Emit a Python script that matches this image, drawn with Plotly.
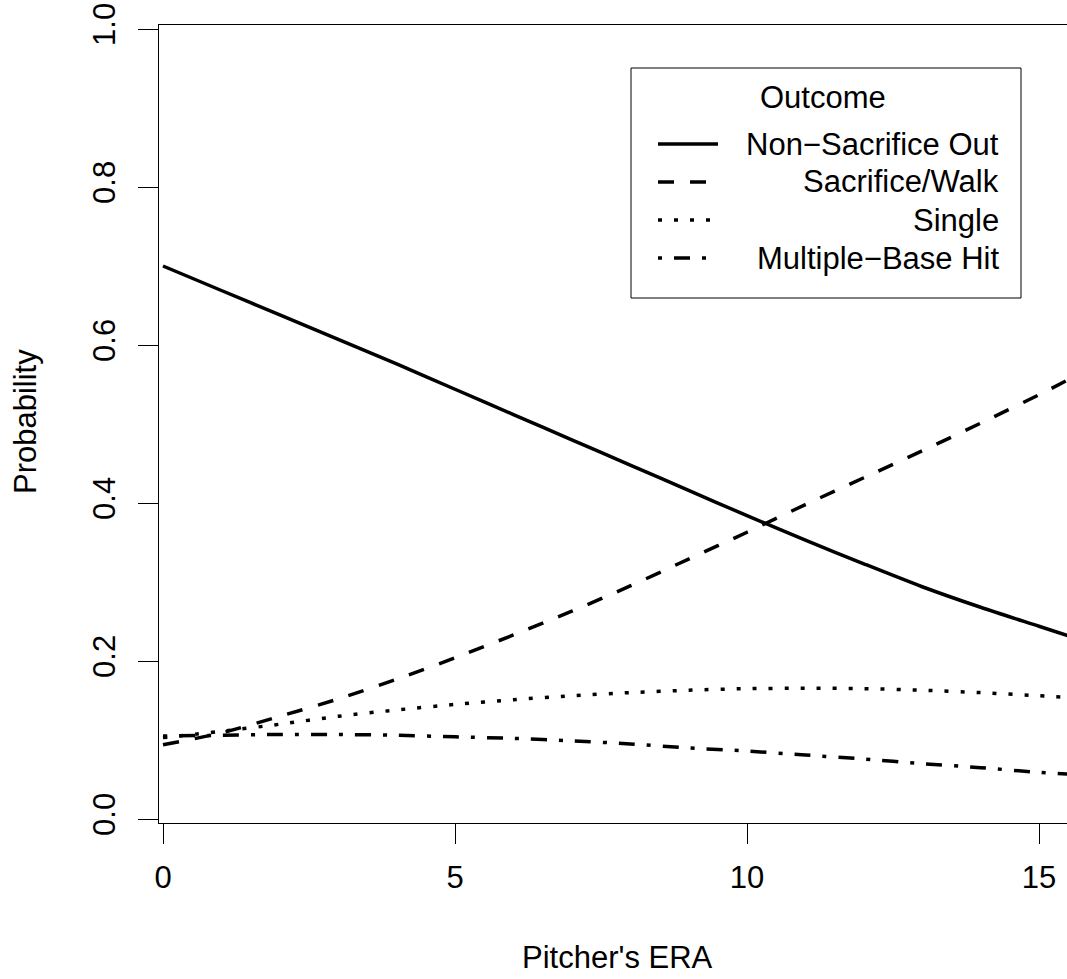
import plotly.graph_objects as go

era = [0, 1, 2, 3, 4, 5, 6, 7, 8, 9, 10, 11, 12, 13, 14, 15, 15.5]
non_sac_out = [0.700, 0.669, 0.638, 0.607, 0.576, 0.544, 0.512, 0.480, 0.448, 0.416,
               0.384, 0.353, 0.323, 0.294, 0.268, 0.244, 0.232]
sac_walk = [0.094, 0.109, 0.130, 0.152, 0.177, 0.204, 0.233, 0.263, 0.295, 0.329,
            0.363, 0.398, 0.432, 0.466, 0.501, 0.537, 0.556]
single = [0.103, 0.111, 0.120, 0.130, 0.138, 0.145, 0.151, 0.156, 0.160, 0.163,
          0.165, 0.1655, 0.165, 0.163, 0.160, 0.156, 0.154]
multi_hit = [0.105, 0.106, 0.107, 0.107, 0.106, 0.104, 0.102, 0.099, 0.095, 0.090,
             0.086, 0.081, 0.076, 0.070, 0.065, 0.059, 0.057]

series_names = ["Non\u2212Sacrifice Out", "Sacrifice/Walk", "Single", "Multiple\u2212Base Hit"]
series_vals = [non_sac_out, sac_walk, single, multi_hit]
dashes = ["solid", "16px,16px", "4px,12px", "4px,12px,16px,12px"]

x_ticks = [0, 5, 10, 15]
y_ticks = [0.0, 0.2, 0.4, 0.6, 0.8, 1.0]
y_ticklabels = ["0.0", "0.2", "0.4", "0.6", "0.8", "1.0"]

FONT = "Liberation Sans, Arial, Helvetica, sans-serif"
FS = 31
LW = 3.5

fig = go.Figure()
for name, vals, d in zip(series_names, series_vals, dashes):
    fig.add_trace(go.Scatter(x=era, y=vals, mode="lines", name=name,
                             line=dict(color="black", width=LW, dash=d,
                                       shape="spline", smoothing=0.8),
                             showlegend=False, hoverinfo="skip"))

# plot area pixel geometry
L, R, T, B = 159, 1067, 25, 823
W, H = R - L, B - T
def px(x):
    return (x - L) / W
def py(y):
    return (B - y) / H

shapes = []
annotations = []
# legend box
shapes.append(dict(type="rect", xref="paper", yref="paper",
                   x0=px(631), x1=px(1021), y0=py(298), y1=py(68),
                   line=dict(color="black", width=1), fillcolor="white", layer="above"))
annotations.append(dict(text="Outcome", xref="paper", yref="paper", x=px(823), y=py(97),
                        xanchor="center", yanchor="middle", showarrow=False,
                        font=dict(family=FONT, size=FS, color="black")))
rows = [144, 182, 220, 258]
for name, d, ry in zip(series_names, dashes, rows):
    shapes.append(dict(type="line", xref="paper", yref="paper",
                       x0=px(658), x1=px(718), y0=py(ry), y1=py(ry),
                       line=dict(color="black", width=LW, dash=d), layer="above"))
    annotations.append(dict(text=name, xref="paper", yref="paper", x=px(1001), y=py(ry),
                            xanchor="right", yanchor="middle", showarrow=False,
                            font=dict(family=FONT, size=FS, color="black")))

# axis titles
annotations.append(dict(text="Pitcher's ERA", xref="paper", yref="paper",
                        x=px(617.5), y=py(957), xanchor="center", yanchor="middle",
                        showarrow=False, font=dict(family=FONT, size=FS, color="black")))
annotations.append(dict(text="Probability", xref="paper", yref="paper",
                        x=px(26), y=py(422), xanchor="center", yanchor="middle",
                        textangle=-90, showarrow=False,
                        font=dict(family=FONT, size=FS, color="black")))

fig.update_layout(
    width=1067, height=979,
    margin=dict(l=L, r=1067 - R, t=T, b=979 - B, pad=0),
    paper_bgcolor="white", plot_bgcolor="white",
    font=dict(family=FONT, size=FS, color="black"),
    shapes=shapes, annotations=annotations,
    xaxis=dict(range=[(L - 163) / 58.4, (R - 163) / 58.4], tickvals=x_ticks,
               ticktext=[str(v) for v in x_ticks],
               showgrid=False, zeroline=False, showline=True, linecolor="black",
               linewidth=1, mirror=True, ticks="outside", ticklen=20, tickwidth=1,
               tickcolor="black", tickfont=dict(family=FONT, size=FS, color="black"),
               ticklabelstandoff=7),
    yaxis=dict(range=[(819 - B) / 790, (819 - T) / 790], tickvals=y_ticks,
               ticktext=y_ticklabels, tickangle=-90,
               showgrid=False, zeroline=False, showline=True, linecolor="black",
               linewidth=1, ticks="outside", ticklen=20, tickwidth=1,
               tickcolor="black", tickfont=dict(family=FONT, size=FS, color="black"),
               ticklabelstandoff=11),
)

fig.write_html("out.html", config={"displayModeBar": False},
               post_script="document.body.style.margin='0px';document.body.style.overflow='hidden';")
